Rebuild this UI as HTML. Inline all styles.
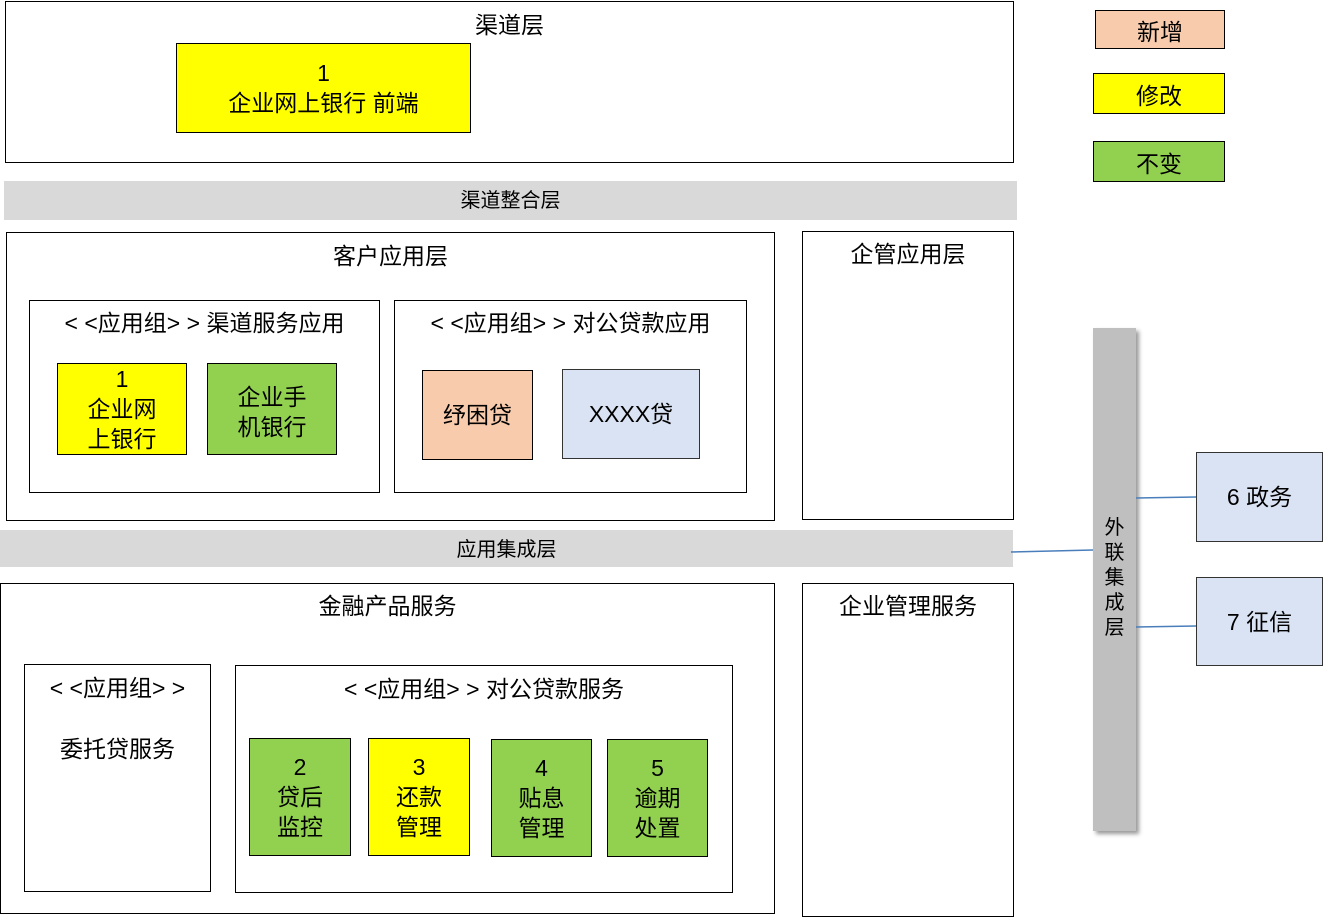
<!DOCTYPE html>
<html><head><meta charset="utf-8"><style>
body{margin:0;width:1323px;height:918px;background:#fff;position:relative;overflow:hidden;font-family:"Liberation Sans","Noto Sans CJK SC",sans-serif;color:#000}
.b{position:absolute;box-sizing:border-box;border:1.5px solid #000;background:#fff}
.t{position:absolute;left:0;right:0;text-align:center;font-size:23px;line-height:26px}
.n{position:absolute;box-sizing:border-box;border:1.5px solid #000;display:flex;align-items:center;justify-content:center;text-align:center;font-size:23px;line-height:30px}
.y{background:#ffff00}.g{background:#92d050}.o{background:#f8cbad}.l{background:#dae3f3;border-color:#333}
.bar{position:absolute;background:#d9d9d9;text-align:center;font-size:20px}
</style></head><body>
<div class="b" style="left:5px;top:1px;width:1009px;height:162px"><div class="t" style="top:10px">渠道层</div></div>
<div class="n y" style="left:176px;top:43px;width:295px;height:90px">1<br>企业网上银行 前端</div>
<div class="bar" style="left:4px;top:181px;width:1013px;height:39px;line-height:41px">渠道整合层</div>
<div class="b" style="left:6px;top:232px;width:769px;height:289px"><div class="t" style="top:10px">客户应用层</div></div>
<div class="b" style="left:29px;top:300px;width:351px;height:193px"><div class="t" style="top:9px">&lt; &lt;应用组&gt; &gt; 渠道服务应用</div></div>
<div class="n y" style="left:57px;top:363px;width:130px;height:92px;line-height:30px">1<br>企业网<br>上银行</div>
<div class="n g" style="left:207px;top:363px;width:130px;height:92px;padding-top:6px">企业手<br>机银行</div>
<div class="b" style="left:394px;top:300px;width:353px;height:193px"><div class="t" style="top:9px">&lt; &lt;应用组&gt; &gt; 对公贷款应用</div></div>
<div class="n o" style="left:422px;top:370px;width:111px;height:90px">纾困贷</div>
<div class="n l" style="left:562px;top:369px;width:138px;height:90px">XXXX贷</div>
<div class="b" style="left:802px;top:231px;width:212px;height:289px"><div class="t" style="top:9px">企管应用层</div></div>
<div class="bar" style="left:0;top:530px;width:1013px;height:37px;line-height:40px">应用集成层</div>
<div class="b" style="left:0;top:583px;width:775px;height:331px"><div class="t" style="top:9px">金融产品服务</div></div>
<div class="b" style="left:24px;top:664px;width:187px;height:228px"><div class="t" style="top:10px">&lt; &lt;应用组&gt; &gt;</div><div class="t" style="top:71px">委托贷服务</div></div>
<div class="b" style="left:235px;top:665px;width:498px;height:228px"><div class="t" style="top:10px">&lt; &lt;应用组&gt; &gt; 对公贷款服务</div></div>
<div class="n g" style="left:249px;top:738px;width:102px;height:118px">2<br>贷后<br>监控</div>
<div class="n y" style="left:368px;top:738px;width:102px;height:118px">3<br>还款<br>管理</div>
<div class="n g" style="left:491px;top:739px;width:101px;height:118px">4<br>贴息<br>管理</div>
<div class="n g" style="left:607px;top:739px;width:101px;height:118px">5<br>逾期<br>处置</div>
<div class="b" style="left:802px;top:583px;width:212px;height:334px"><div class="t" style="top:9px">企业管理服务</div></div>
<div style="position:absolute;left:1093px;top:328px;width:43px;height:503px;background:#bfbfbf;box-shadow:3px 3px 4px #999;font-size:20px;line-height:25px;text-align:center;padding-top:188px;box-sizing:border-box">外<br>联<br>集<br>成<br>层</div>
<div class="n l" style="left:1196px;top:452px;width:127px;height:90px">6 政务</div>
<div class="n l" style="left:1196px;top:577px;width:127px;height:89px">7 征信</div>
<div class="n o" style="left:1095px;top:10px;width:130px;height:39px;padding-top:4px">新增</div>
<div class="n y" style="left:1093px;top:73px;width:132px;height:41px;padding-top:4px">修改</div>
<div class="n g" style="left:1093px;top:141px;width:132px;height:41px;padding-top:4px">不变</div>
<svg style="position:absolute;left:0;top:0" width="1323" height="918"><g stroke="#4a7ebb" stroke-width="1.5"><line x1="1136" y1="498" x2="1196" y2="497"/><line x1="1136" y1="627" x2="1196" y2="626"/><line x1="1011" y1="552" x2="1093" y2="550"/></g></svg>
</body></html>
